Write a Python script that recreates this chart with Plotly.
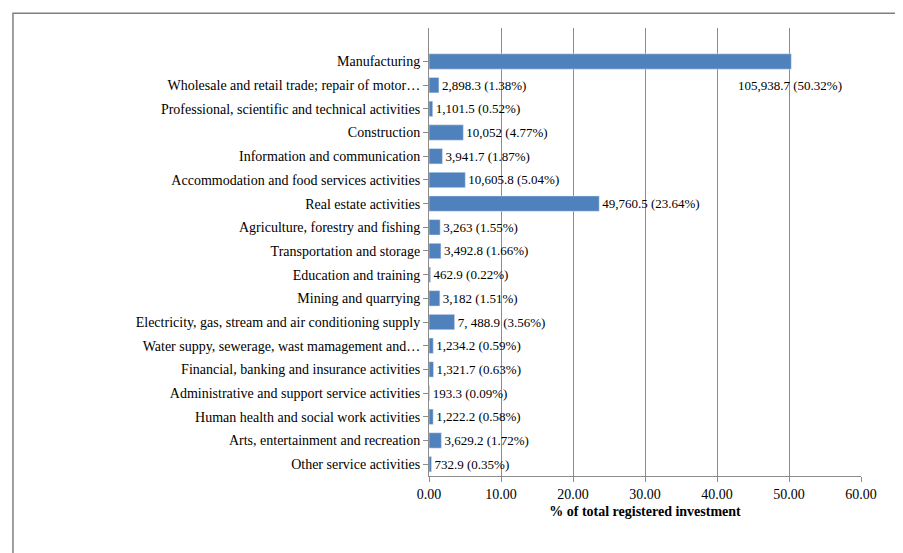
import plotly.graph_objects as go

categories = ["Manufacturing","Wholesale and retail trade; repair of motor…","Professional, scientific and technical activities",
"Construction","Information and communication","Accommodation and food services activities","Real estate activities",
"Agriculture, forestry and fishing","Transportation and storage","Education and training","Mining and quarrying",
"Electricity, gas, stream and air conditioning supply","Water suppy, sewerage, wast mamagement and…",
"Financial, banking and insurance activities","Administrative and support service activities",
"Human health and social work activities","Arts, entertainment and recreation","Other service activities"]
percent = [50.32,1.38,0.52,4.77,1.87,5.04,23.64,1.55,1.66,0.22,1.51,3.56,0.59,0.63,0.09,0.58,1.72,0.35]
labels = ["105,938.7 (50.32%)","2,898.3 (1.38%)","1,101.5 (0.52%)","10,052 (4.77%)","3,941.7 (1.87%)",
"10,605.8 (5.04%)","49,760.5 (23.64%)","3,263 (1.55%)","3,492.8 (1.66%)","462.9 (0.22%)","3,182 (1.51%)",
"7, 488.9 (3.56%)","1,234.2 (0.59%)","1,321.7 (0.63%)","193.3 (0.09%)","1,222.2 (0.58%)","3,629.2 (1.72%)","732.9 (0.35%)"]

texts = ["" if i == 0 else t for i, t in enumerate(labels)]
fig = go.Figure(go.Bar(x=percent, y=categories, orientation="h", marker_color="#4F81BD",
    width=0.65, text=texts, textposition="outside", cliponaxis=False,
    textfont=dict(family="Liberation Serif", size=13, color="black")))
fig.add_annotation(x=percent[0], y=categories[0], text=labels[0], showarrow=False, xanchor="left",
    xshift=-55, yshift=-24, font=dict(family="Liberation Serif", size=13, color="black"))
fig.update_layout(width=903, height=553, plot_bgcolor="white", paper_bgcolor="white",
    margin=dict(l=421, r=50, t=20, b=85), showlegend=False, bargap=0.35,
    font=dict(family="Liberation Serif", size=14, color="black"),
    shapes=[dict(type="rect", xref="paper", yref="paper", x0=-0.963, x1=1.104, y0=-0.179, y1=1.033,
                 line=dict(color="#7f7f7f", width=1.5), layer="below")])
fig.update_xaxes(range=[0, 60], dtick=10, tickformat=".2f", showgrid=True, gridcolor="#8c8c8c",
    showline=True, linecolor="#8c8c8c", ticks="outside", tickcolor="#8c8c8c", zeroline=False,
    title=dict(text="<b>% of total registered investment</b>", font=dict(size=14), standoff=5))
fig.update_yaxes(autorange="reversed", showline=True, linecolor="#8c8c8c", ticks="outside",
    tickcolor="#8c8c8c", ticklen=5, range=None)
fig.write_html("out.html")
